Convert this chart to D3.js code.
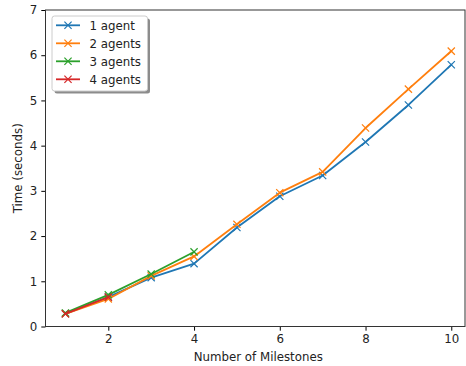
<!DOCTYPE html>
<html>
<head>
<meta charset="utf-8">
<script src="https://cdn.jsdelivr.net/npm/d3@7"></script>
<style>
  html, body { margin: 0; padding: 0; background: #fff; }
  svg { display: block; font-family: "DejaVu Sans", sans-serif; }
</style>
</head>
<body>
<svg id="chart" width="466" height="366"></svg>
<script>
// Milestone counts and solve times per agent count
const milestones = [1, 2, 3, 4, 5, 6, 7, 8, 9, 10];
const oneAgent   = [0.28, 0.65, 1.08, 1.39, 2.19, 2.88, 3.34, 4.08, 4.90, 5.79];
const twoAgents  = [0.28, 0.61, 1.12, 1.55, 2.26, 2.96, 3.42, 4.39, 5.25, 6.09];
const threeAgents = [0.30, 0.70, 1.16, 1.65];
const fourAgents  = [0.28, 0.65];
const seriesNames = ["1 agent", "2 agents", "3 agents", "4 agents"];
const seriesColors = ["#1f77b4", "#ff7f0e", "#2ca02c", "#d62728"];
const xTicks = [2, 4, 6, 8, 10];
const yTicks = [0, 1, 2, 3, 4, 5, 6, 7];

const allSeries = [oneAgent, twoAgents, threeAgents, fourAgents].map((vals, i) => ({
  name: seriesNames[i],
  color: seriesColors[i],
  points: vals.map((v, j) => ({ x: milestones[j], y: v }))
}));

const FS = 11.8;
const svg = d3.select("#chart");
const plot = { left: 45.5, right: 465, top: 10, bottom: 326.5 };

const x = d3.scaleLinear().domain([0.535, 10.32]).range([plot.left, plot.right]);
const y = d3.scaleLinear().domain([0, 7]).range([plot.bottom, plot.top]);

// Axes
const xAxis = svg.append("g")
  .attr("transform", `translate(0,${plot.bottom})`)
  .call(d3.axisBottom(x).tickValues(xTicks).tickSize(4.2).tickPadding(4).tickFormat(d3.format("d")));
const yAxis = svg.append("g")
  .attr("transform", `translate(${plot.left},0)`)
  .call(d3.axisLeft(y).tickValues(yTicks).tickSize(4.2).tickPadding(4).tickFormat(d3.format("d")));

[xAxis, yAxis].forEach(g => {
  g.select(".domain").remove();
  g.selectAll(".tick line").attr("stroke", "#000").attr("stroke-width", 1);
  g.selectAll(".tick text").attr("fill", "#222").attr("font-size", FS)
    .attr("font-family", "DejaVu Sans, sans-serif");
});

// Spines
svg.append("rect")
  .attr("x", plot.left).attr("y", plot.top)
  .attr("width", plot.right - plot.left).attr("height", plot.bottom - plot.top)
  .attr("fill", "none").attr("stroke", "#333").attr("stroke-width", 1);

// Axis labels
svg.append("text")
  .attr("x", (plot.left + plot.right) / 2 + 3).attr("y", 361)
  .attr("text-anchor", "middle").attr("font-size", FS).attr("fill", "#222")
  .text("Number of Milestones");
svg.append("text")
  .attr("transform", `translate(22,${(plot.top + plot.bottom) / 2}) rotate(-90)`)
  .attr("text-anchor", "middle").attr("font-size", FS).attr("fill", "#222")
  .text("Time (seconds)");

// Lines and x markers
const line = d3.line().x(d => x(d.x)).y(d => y(d.y));
const mk = 3.6;
const crossPath = (cx, cy) => `M${cx - mk},${cy - mk}L${cx + mk},${cy + mk}M${cx - mk},${cy + mk}L${cx + mk},${cy - mk}`;

const series = svg.append("g").selectAll("g").data(allSeries).join("g");
series.append("path")
  .attr("d", d => line(d.points))
  .attr("fill", "none").attr("stroke", d => d.color).attr("stroke-width", 1.8)
  .attr("stroke-linejoin", "round").attr("stroke-linecap", "square");
series.each(function (s) {
  d3.select(this).selectAll(".m").data(s.points).join("path")
    .attr("class", "m")
    .attr("d", d => crossPath(x(d.x), y(d.y)))
    .attr("stroke", s.color).attr("stroke-width", 1.2).attr("fill", "none");
});

// Legend
const lg = svg.append("g");
const lgBox = { x: 52, y: 16, w: 95.5, h: 75 };
lg.append("rect")
  .attr("x", lgBox.x + 2.5).attr("y", lgBox.y + 2.5)
  .attr("width", lgBox.w).attr("height", lgBox.h).attr("rx", 2.5)
  .attr("fill", "#000").attr("opacity", 0.45);
lg.append("rect")
  .attr("x", lgBox.x).attr("y", lgBox.y)
  .attr("width", lgBox.w).attr("height", lgBox.h).attr("rx", 2.5)
  .attr("fill", "#fff").attr("stroke", "#ccc").attr("stroke-width", 1);
allSeries.forEach((s, i) => {
  const cy = 25.3 + i * 18;
  lg.append("line").attr("x1", 56).attr("x2", 80).attr("y1", cy).attr("y2", cy)
    .attr("stroke", s.color).attr("stroke-width", 1.8);
  lg.append("path").attr("d", crossPath(68, cy))
    .attr("stroke", s.color).attr("stroke-width", 1.2).attr("fill", "none");
  lg.append("text").attr("x", 89.5).attr("y", cy + 4.3)
    .attr("font-size", FS).attr("fill", "#222").text(s.name);
});
</script>
</body>
</html>
